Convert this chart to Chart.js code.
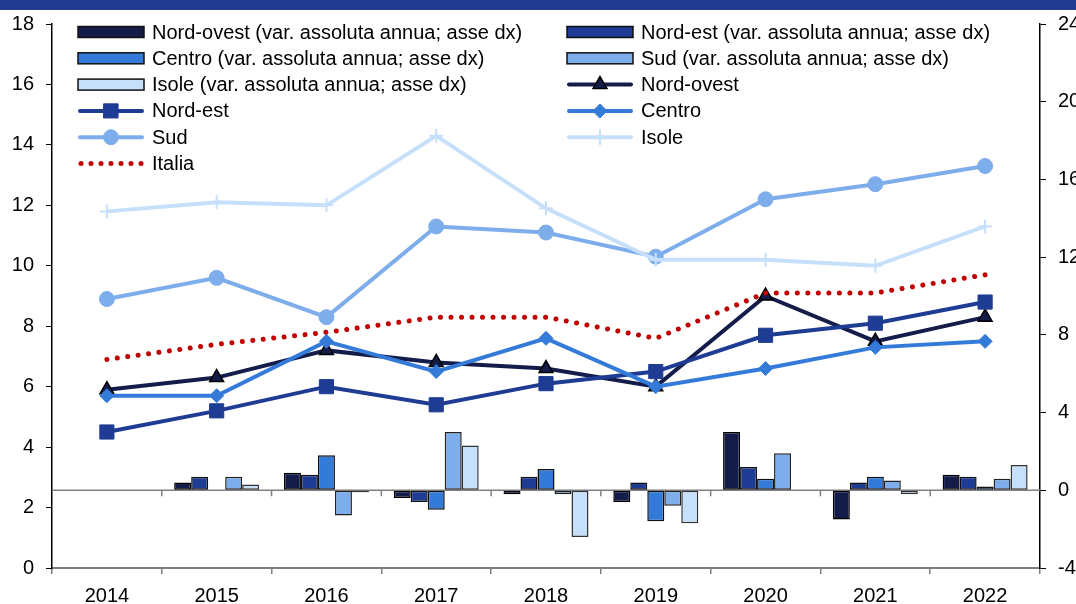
<!DOCTYPE html>
<html>
<head>
<meta charset="utf-8">
<style>
  html, body { margin: 0; padding: 0; background: #fff; overflow: hidden; }
  #band { position: absolute; left: 0; top: 0; width: 1076px; height: 10px; background: #213a8f; z-index: 2; }
  #wrap { position: absolute; left: 0; top: 0; width: 1100px; height: 630px; }
</style>
<script src="https://cdn.jsdelivr.net/npm/chart.js@4/dist/chart.umd.min.js"></script>
</head>
<body>
<div id="band"></div>
<div id="wrap"><canvas id="chart"></canvas></div>
<script>
const years = ["2014", "2015", "2016", "2017", "2018", "2019", "2020", "2021", "2022"];

// livelli (asse sx)
const nordOvest = [5.9, 6.3, 7.2, 6.8, 6.6, 6.0, 9.0, 7.5, 8.3];
const nordEst   = [4.5, 5.2, 6.0, 5.4, 6.1, 6.5, 7.7, 8.1, 8.8];
const centro    = [5.7, 5.7, 7.5, 6.5, 7.6, 6.0, 6.6, 7.3, 7.5];
const sud       = [8.9, 9.6, 8.3, 11.3, 11.1, 10.3, 12.2, 12.7, 13.3];
const isole     = [11.8, 12.1, 12.0, 14.3, 11.9, 10.2, 10.2, 10.0, 11.3];
const italia    = [6.9, 7.4, 7.8, 8.3, 8.3, 7.6, 9.1, 9.1, 9.7];

// var. assoluta annua (asse dx)
const varNordOvest = [null, 0.4, 0.9, -0.4, -0.2, -0.6, 3.0, -1.5, 0.8];
const varNordEst   = [null, 0.7, 0.8, -0.6, 0.7, 0.4, 1.2, 0.4, 0.7];
const varCentro    = [null, 0, 1.8, -1.0, 1.1, -1.6, 0.6, 0.7, 0.2];
const varSud       = [null, 0.7, -1.3, 3.0, -0.2, -0.8, 1.9, 0.5, 0.6];
const varIsole     = [null, 0.3, -0.1, 2.3, -2.4, -1.7, 0, -0.2, 1.3];

const cNO = "#141c4a";
const cNE = "#1f3c94";
const cCE = "#347bd9";
const cSU = "#7eadeb";
const cIS = "#c6e0fc";
const cIT = "#c00000";

Chart.defaults.font.family = "'Liberation Sans', Arial, sans-serif";
Chart.defaults.font.size = 20;
Chart.defaults.color = "#000";

const barDs = (label, data, color, border) => ({
  type: "bar", label, data, yAxisID: "y2", order: 10,
  backgroundColor: color, borderColor: border, borderWidth: 1.5, borderSkipped: false,
  categoryPercentage: 0.774, barPercentage: 1.0
});

const lineDs = (label, data, color, style, r, extra) => Object.assign({
  type: "line", label, data, yAxisID: "y",
  borderColor: color, backgroundColor: color, borderWidth: 4, tension: 0,
  pointStyle: style, pointRadius: r, pointBackgroundColor: color, pointBorderColor: color,
  pointBorderWidth: 1
}, extra || {});

const legendItems = [
  { kind: "bar", label: "Nord-ovest (var. assoluta annua; asse dx)", color: cNO },
  { kind: "bar", label: "Nord-est (var. assoluta annua; asse dx)", color: cNE },
  { kind: "bar", label: "Centro (var. assoluta annua; asse dx)", color: cCE },
  { kind: "bar", label: "Sud (var. assoluta annua; asse dx)", color: cSU },
  { kind: "bar", label: "Isole (var. assoluta annua; asse dx)", color: cIS },
  { kind: "line", label: "Nord-ovest", color: cNO, style: "triangle", r: 8, border: "#000", bw: 1.5 },
  { kind: "line", label: "Nord-est", color: cNE, style: "rect", r: 10, border: cNE, bw: 1 },
  { kind: "line", label: "Centro", color: cCE, style: "rectRot", r: 7, border: cCE, bw: 1 },
  { kind: "line", label: "Sud", color: cSU, style: "circle", r: 7.5, border: cSU, bw: 1 },
  { kind: "line", label: "Isole", color: cIS, style: "cross", r: 7, border: cIS, bw: 2 },
  { kind: "dots", label: "Italia", color: cIT }
];

const legendPlugin = {
  id: "customLegend",
  afterDraw(chart) {
    const ctx = chart.ctx;
    const colX = [78, 567];
    ctx.save();
    legendItems.forEach((it, i) => {
      const x = colX[i % 2];
      const y = 32 + Math.floor(i / 2) * 26.3;
      if (it.kind === "bar") {
        ctx.fillStyle = it.color;
        ctx.fillRect(x, y - 5.5, 66, 11);
        ctx.strokeStyle = "#111";
        ctx.lineWidth = 1.5;
        ctx.strokeRect(x, y - 5.5, 66, 11);
      } else if (it.kind === "line") {
        ctx.strokeStyle = it.color;
        ctx.lineWidth = 4;
        ctx.lineCap = "round";
        ctx.beginPath();
        ctx.moveTo(x + 2, y);
        ctx.lineTo(x + 64, y);
        ctx.stroke();
        ctx.fillStyle = it.color;
        ctx.strokeStyle = it.border;
        ctx.lineWidth = it.bw;
        Chart.helpers.drawPoint(ctx, { pointStyle: it.style, radius: it.r, borderWidth: it.bw, rotation: 0 }, x + 33, y);
      } else {
        ctx.fillStyle = it.color;
        for (let k = 0; k < 7; k++) {
          ctx.beginPath();
          ctx.arc(x + 3 + k * 10, y, 2.5, 0, Math.PI * 2);
          ctx.fill();
        }
      }
      ctx.fillStyle = "#000";
      ctx.font = "20px 'Liberation Sans', Arial, sans-serif";
      ctx.textBaseline = "middle";
      ctx.textAlign = "left";
      ctx.fillText(it.label, x + 74, y + 1);
    });
    ctx.restore();
  }
};

// linea dello zero dell'asse dx con tacche
const zeroLinePlugin = {
  id: "zeroLine",
  beforeDatasetsDraw(chart) {
    const ctx = chart.ctx;
    const xs = chart.scales.x;
    const y0 = chart.scales.y2.getPixelForValue(0);
    const step = xs.getPixelForValue(1) - xs.getPixelForValue(0);
    ctx.save();
    ctx.strokeStyle = "#7f7f7f";
    ctx.lineWidth = 1.5;
    ctx.beginPath();
    ctx.moveTo(chart.chartArea.left, y0);
    ctx.lineTo(chart.chartArea.right, y0);
    for (let i = 1; i < years.length; i++) {
      const bx = xs.getPixelForValue(i) - step / 2;
      ctx.moveTo(bx, y0);
      ctx.lineTo(bx, y0 + 6);
    }
    ctx.stroke();
    ctx.restore();
  }
};

new Chart(document.getElementById("chart"), {
  type: "bar",
  data: {
    labels: years,
    datasets: [
      barDs("Nord-ovest (var. assoluta annua; asse dx)", varNordOvest, cNO, "#000"),
      barDs("Nord-est (var. assoluta annua; asse dx)", varNordEst, cNE, "#111"),
      barDs("Centro (var. assoluta annua; asse dx)", varCentro, cCE, "#111"),
      barDs("Sud (var. assoluta annua; asse dx)", varSud, cSU, "#222"),
      barDs("Isole (var. assoluta annua; asse dx)", varIsole, cIS, "#333"),
      lineDs("Nord-ovest", nordOvest, cNO, "triangle", 8, { order: 6, pointBorderColor: "#000", pointBorderWidth: 1.5 }),
      lineDs("Nord-est", nordEst, cNE, "rect", 10, { order: 5 }),
      lineDs("Centro", centro, cCE, "rectRot", 7, { order: 4 }),
      lineDs("Sud", sud, cSU, "circle", 7.5, { order: 3 }),
      lineDs("Isole", isole, cIS, "cross", 7, { order: 2, pointBorderWidth: 2 }),
      lineDs("Italia", italia, cIT, "circle", 0, {
        order: 1, borderWidth: 5, borderDash: [0.01, 10.5], borderCapStyle: "round"
      })
    ]
  },
  options: {
    responsive: true,
    maintainAspectRatio: false,
    animation: false,
    layout: { padding: { top: 21, left: 0, right: 0, bottom: 0 } },
    plugins: { legend: { display: false }, tooltip: { enabled: false } },
    scales: {
      x: {
        offset: true,
        grid: { offset: true, drawOnChartArea: false, tickLength: 6, color: "#7f7f7f", lineWidth: 1.5 },
        border: { color: "#7f7f7f", width: 2 },
        ticks: { padding: 10, maxRotation: 0, autoSkip: false },
        afterFit(s) { s.height = 62; }
      },
      y: {
        position: "left", min: 0, max: 18,
        ticks: { stepSize: 2, padding: 12 },
        grid: { drawOnChartArea: false, tickLength: 6, color: "#000", lineWidth: 1 },
        border: { color: "#000", width: 1.5 },
        afterFit(s) { s.width = 52; }
      },
      y2: {
        position: "right", min: -4, max: 24,
        ticks: { stepSize: 4, padding: 12 },
        grid: { drawOnChartArea: false, tickLength: 6, color: "#000", lineWidth: 1 },
        border: { color: "#000", width: 1.5 },
        afterFit(s) { s.width = 60; }
      }
    }
  },
  plugins: [zeroLinePlugin, legendPlugin]
});
</script>
</body>
</html>
